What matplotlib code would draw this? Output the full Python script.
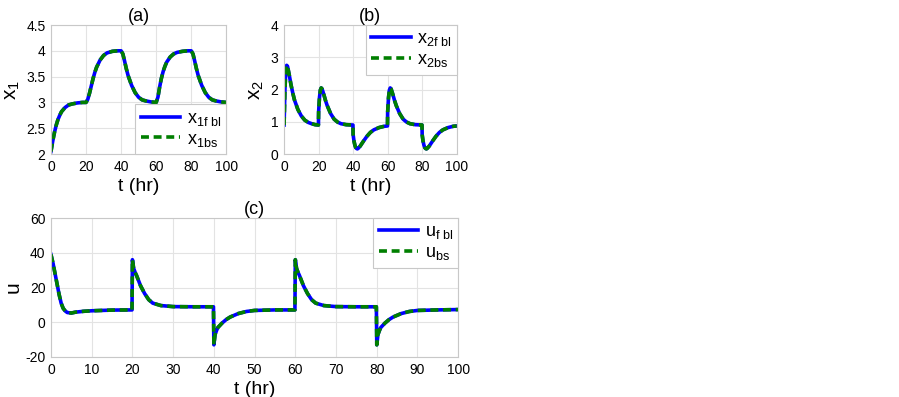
import numpy as np
import matplotlib
matplotlib.use("Agg")
import matplotlib.pyplot as plt

plt.rcParams["font.family"] = ["Liberation Sans", "DejaVu Sans"]
plt.rcParams["mathtext.fontset"] = "custom"
plt.rcParams["mathtext.rm"] = "Liberation Sans"
plt.rcParams["mathtext.it"] = "Liberation Sans"
plt.rcParams["axes.unicode_minus"] = False

# x1 trajectory
t_x1 = [0, 1, 2, 3, 4, 5, 6, 8, 10, 12, 15, 18, 20, 21, 22, 23, 24, 25, 26, 28, 30, 32, 35, 38, 40,
        41, 42, 43, 44, 46, 48, 50, 52, 54, 57, 60,
        61, 62, 63, 64, 65, 66, 68, 70, 72, 75, 78, 80,
        81, 82, 83, 84, 86, 88, 90, 92, 94, 97, 100]
x1 = [2.05, 2.25, 2.42, 2.56, 2.67, 2.75, 2.82, 2.9, 2.95, 2.97, 2.99, 3.0, 3.0, 3.06, 3.18, 3.32, 3.46, 3.58, 3.68, 3.82, 3.91, 3.96, 3.99, 4.0, 4.0,
      3.94, 3.8, 3.65, 3.52, 3.33, 3.19, 3.1, 3.05, 3.03, 3.01, 3.0,
      3.1, 3.3, 3.47, 3.6, 3.7, 3.78, 3.88, 3.94, 3.97, 3.99, 4.0, 4.0,
      3.94, 3.8, 3.65, 3.52, 3.33, 3.19, 3.1, 3.05, 3.03, 3.01, 3.0]

# x2 trajectory
t_x2 = [0, 0.5, 1, 1.5, 2, 3, 4, 5, 6, 8, 10, 12, 14, 16, 18, 19.9,
        20, 20.5, 21, 21.5, 22, 23, 24, 25, 27, 29, 31, 33, 36, 39.9,
        40, 40.5, 41, 41.5, 42, 42.5, 43, 44, 45, 46, 48, 50, 52, 55, 58, 59.9,
        60, 60.5, 61, 61.5, 62, 63, 64, 65, 67, 69, 71, 73, 76, 79.9,
        80, 80.5, 81, 81.5, 82, 82.5, 83, 84, 85, 86, 88, 90, 92, 95, 98, 100]
x2 = [0.9, 2.0, 2.6, 2.75, 2.72, 2.45, 2.15, 1.9, 1.68, 1.38, 1.18, 1.05, 0.98, 0.94, 0.91, 0.9,
      1.3, 1.75, 1.98, 2.05, 2.02, 1.85, 1.66, 1.5, 1.25, 1.08, 0.99, 0.94, 0.91, 0.9,
      0.6, 0.4, 0.28, 0.2, 0.17, 0.16, 0.18, 0.24, 0.32, 0.4, 0.55, 0.67, 0.75, 0.82, 0.86, 0.87,
      1.3, 1.75, 1.98, 2.05, 2.02, 1.85, 1.66, 1.5, 1.25, 1.08, 0.99, 0.94, 0.91, 0.9,
      0.6, 0.4, 0.28, 0.2, 0.17, 0.16, 0.18, 0.24, 0.32, 0.4, 0.55, 0.67, 0.75, 0.82, 0.86, 0.87]

# control input u
t_u = [0, 0.5, 1, 1.5, 2, 2.5, 3, 3.5, 4, 5, 6, 8, 10, 15, 19.9,
       20, 20.3, 20.7, 21, 21.5, 22, 23, 24, 25, 27, 30, 35, 39.9,
       40, 40.3, 40.7, 41, 42, 43, 44, 46, 48, 50, 55, 59.9,
       60, 60.3, 60.7, 61, 61.5, 62, 63, 64, 65, 67, 70, 75, 79.9,
       80, 80.3, 80.7, 81, 82, 83, 84, 86, 88, 90, 95, 100]
u = [39, 34, 28, 22, 16, 11, 8, 6.5, 5.6, 5.3, 5.8, 6.3, 6.6, 7.0, 7.1,
     36, 31, 28.5, 27, 24, 21, 16.5, 13, 11, 9.6, 9.0, 8.9, 8.9,
     -13, -7, -4.5, -3, -0.5, 1.5, 3, 5, 6.2, 6.8, 7.1, 7.1,
     36, 31, 28.5, 27, 24, 21, 16.5, 13, 11, 9.6, 9.0, 8.9, 8.9,
     -13, -7, -4.5, -3, -0.5, 1.5, 3, 5, 6.2, 6.8, 7.1, 7.3]

BLUE = "#0000ff"
GREEN = "#007f00"


def style_axes(ax):
    ax.grid(True, color="#e3e3e3", linewidth=0.8)
    ax.set_axisbelow(True)
    for s in ax.spines.values():
        s.set_color("#c8c8c8")
        s.set_linewidth(0.8)
    ax.tick_params(length=0, labelsize=10)
    ax.tick_params(axis="x", pad=4)
    ax.tick_params(axis="y", pad=4)
    ax.set_xlabel("t (hr)", fontsize=14, labelpad=3)


def draw(ax, t, y, lab_fb, lab_bs, loc):
    ax.plot(t, y, color=BLUE, lw=2.6, label=lab_fb)
    ax.plot(t, y, color=GREEN, lw=2.6, ls=(0, (2.2, 1.3)), label=lab_bs)
    leg = ax.legend(loc=loc, fontsize=13, handlelength=2.2, borderaxespad=0.0,
                    fancybox=False, framealpha=1, edgecolor="#c8c8c8",
                    handletextpad=0.35, labelspacing=0.15, borderpad=0.3)
    leg.get_frame().set_linewidth(0.8)


fig = plt.figure(figsize=(8.99, 3.97), dpi=100)

ax_a = fig.add_axes([0.0567, 0.612, 0.195, 0.325])
draw(ax_a, t_x1, x1, r"$\mathrm{x}_{\mathrm{1f\ bl}}$", r"$\mathrm{x}_{\mathrm{1bs}}$", "lower right")
ax_a.set_xlim(0, 100)
ax_a.set_ylim(2, 4.5)
ax_a.set_xticks(range(0, 101, 20))
ax_a.set_yticks(np.arange(2, 4.51, 0.5))
ax_a.set_yticklabels(["2", "2.5", "3", "3.5", "4", "4.5"])
style_axes(ax_a)
ax_a.set_ylabel(r"$\mathrm{x}_{1}$", fontsize=15, labelpad=3)
ax_a.set_title("(a)", fontsize=13, pad=3)

ax_b = fig.add_axes([0.316, 0.612, 0.192, 0.325])
draw(ax_b, t_x2, x2, r"$\mathrm{x}_{\mathrm{2f\ bl}}$", r"$\mathrm{x}_{\mathrm{2bs}}$", "upper right")
ax_b.set_xlim(0, 100)
ax_b.set_ylim(0, 4)
ax_b.set_xticks(range(0, 101, 20))
ax_b.set_yticks(range(0, 5))
style_axes(ax_b)
ax_b.set_ylabel(r"$\mathrm{x}_{2}$", fontsize=15, labelpad=3)
ax_b.set_title("(b)", fontsize=13, pad=3)

ax_c = fig.add_axes([0.0567, 0.1008, 0.453, 0.350])
draw(ax_c, t_u, u, r"$\mathrm{u}_{\mathrm{f\ bl}}$", r"$\mathrm{u}_{\mathrm{bs}}$", "upper right")
ax_c.set_xlim(0, 100)
ax_c.set_ylim(-20, 60)
ax_c.set_xticks(range(0, 101, 10))
ax_c.set_yticks(range(-20, 61, 20))
style_axes(ax_c)
ax_c.set_ylabel("u", fontsize=15, labelpad=2)
ax_c.set_title("(c)", fontsize=13, pad=3)

fig.savefig("out.png", dpi=100)
